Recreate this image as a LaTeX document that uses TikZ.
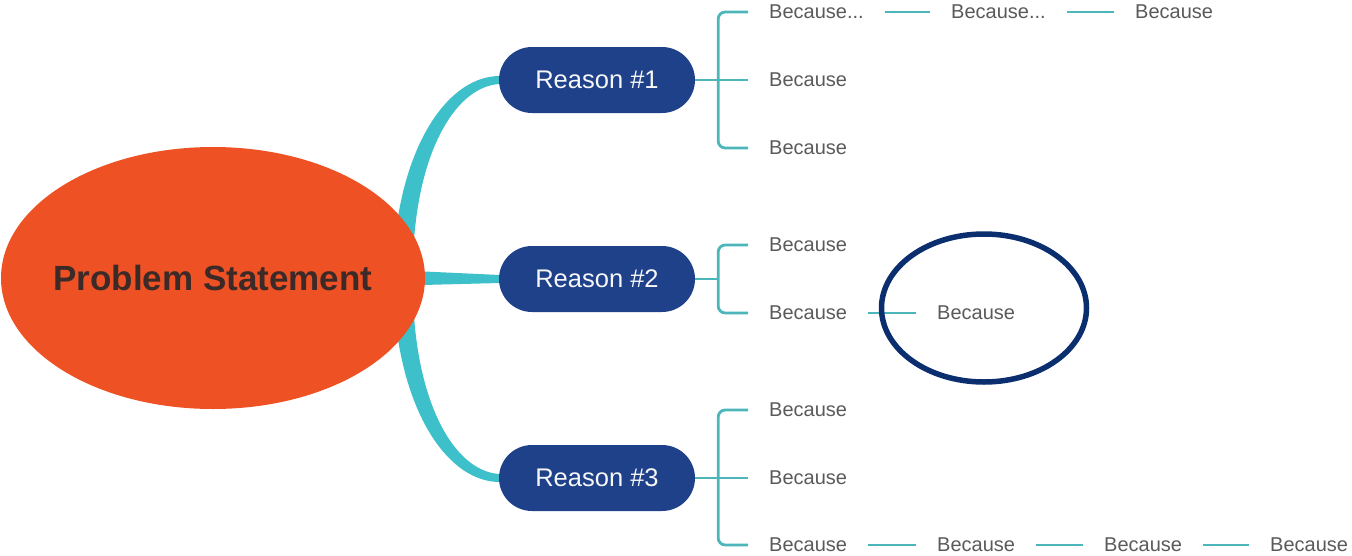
\documentclass[tikz,border=0pt]{standalone}
\usepackage{fontspec}
\setmainfont{Liberation Sans}
\usetikzlibrary{shapes.geometric,calc,backgrounds}
\definecolor{probfill}{HTML}{EE5123}
\definecolor{probtext}{HTML}{3B2A28}
\definecolor{reasonfill}{HTML}{1E418A}
\definecolor{trunkcol}{HTML}{3EC0CB}
\definecolor{twigcol}{HTML}{4DB6BA}
\definecolor{causetext}{HTML}{5A5A5A}
\definecolor{ringcol}{HTML}{0B2F6E}
\tikzset{
  problem/.style={ellipse, fill=probfill, minimum width=424pt, minimum height=262pt,
    inner sep=0pt},
  problemtext/.style={inner sep=0pt, text=probtext, font=\fontsize{35}{40}\selectfont\bfseries},
  reason/.style={fill=reasonfill, rounded corners=33pt, minimum width=196pt,
    minimum height=66pt, inner sep=0pt, text=white!94!gray,
    font=\fontsize{25.5}{30}\selectfont},
  cause/.style={anchor=west, inner xsep=21pt, inner ysep=0pt, text=causetext,
    font=\fontsize{20}{24}\selectfont},
  trunk/.style={fill=trunkcol},
  twig/.style={draw=twigcol, line width=2.8pt},
  ring/.style={ellipse, draw=ringcol, line width=5.5pt, minimum width=205pt,
    minimum height=148pt, inner sep=0pt}
}
\begin{document}
\begin{tikzpicture}[x=1pt,y=-1pt]
\useasboundingbox (0,0) rectangle (1352,555);

% central topic and the three reasons
\node[problem] (ps) at (213,278) {};
\node[problemtext] (pst) at (ps.center) {Problem Statement};
\node[reason] (r1) at (597,80) {Reason \#1};
\node[reason] (r2) at (597,279) {Reason \#2};
\node[reason] (r3) at (597,478) {Reason \#3};

% tapered main branches, tucked behind the ellipse
\begin{scope}[on background layer]
  \fill[trunk] ($(ps.center)+(182,-38)$) .. controls (405,140) and (450,76) .. ($(r1.west)+(1,-4)$)
    -- ($(r1.west)+(1,4)$) .. controls (458,86) and (421,145) .. ($(ps.center)+(201,-38)$) -- cycle;
  \fill[trunk] ($(ps.center)+(190,-7.5)$) -- ($(r2.west)+(1,-4)$)
    -- ($(r2.west)+(1,4)$) -- ($(ps.center)+(190,7.5)$) -- cycle;
  \fill[trunk] ($(ps.center)+(182,38)$) .. controls (405,418) and (450,482) .. ($(r3.west)+(1,4)$)
    -- ($(r3.west)+(1,-4)$) .. controls (458,472) and (421,413) .. ($(ps.center)+(201,38)$) -- cycle;
\end{scope}

% causes of reason 1
\node[cause] (a1) at (748,12) {Because...};
\node[cause] (a1b) at (930,12) {Because...};
\node[cause] (a1c) at (1114,12) {Because};
\node[cause] (a2) at (748,80) {Because};
\node[cause] (a3) at (748,148) {Because};
\coordinate (j1) at ($(r1.east)+(23,0)$);
\draw[twig, rounded corners=7pt] (a1.west) -| (j1) |- (a3.west);
\draw[twig] (r1.east) -- (a2.west);
\draw[twig] (a1.east) -- (a1b.west);
\draw[twig] (a1b.east) -- (a1c.west);

% causes of reason 2
\node[cause] (b1) at (748,245) {Because};
\node[cause] (b2) at (748,313) {Because};
\node[cause] (b3) at (916,313) {Because};
\coordinate (j2) at ($(r2.east)+(23,0)$);
\draw[twig, rounded corners=7pt] (b1.west) -| (j2) |- (b2.west);
\draw[twig] (r2.east) -- (j2);
\draw[twig] (b2.east) -- (b3.west);
\node[ring] (hl) at (984,308) {};

% causes of reason 3
\node[cause] (c1) at (748,410) {Because};
\node[cause] (c2) at (748,478) {Because};
\node[cause] (c3) at (748,545) {Because};
\node[cause] (c3b) at (916,545) {Because};
\node[cause] (c3c) at (1083,545) {Because};
\node[cause] (c3d) at (1249,545) {Because};
\coordinate (j3) at ($(r3.east)+(23,0)$);
\draw[twig, rounded corners=7pt] (c1.west) -| (j3) |- (c3.west);
\draw[twig] (r3.east) -- (c2.west);
\draw[twig] (c3.east) -- (c3b.west);
\draw[twig] (c3b.east) -- (c3c.west);
\draw[twig] (c3c.east) -- (c3d.west);
\end{tikzpicture}
\end{document}
